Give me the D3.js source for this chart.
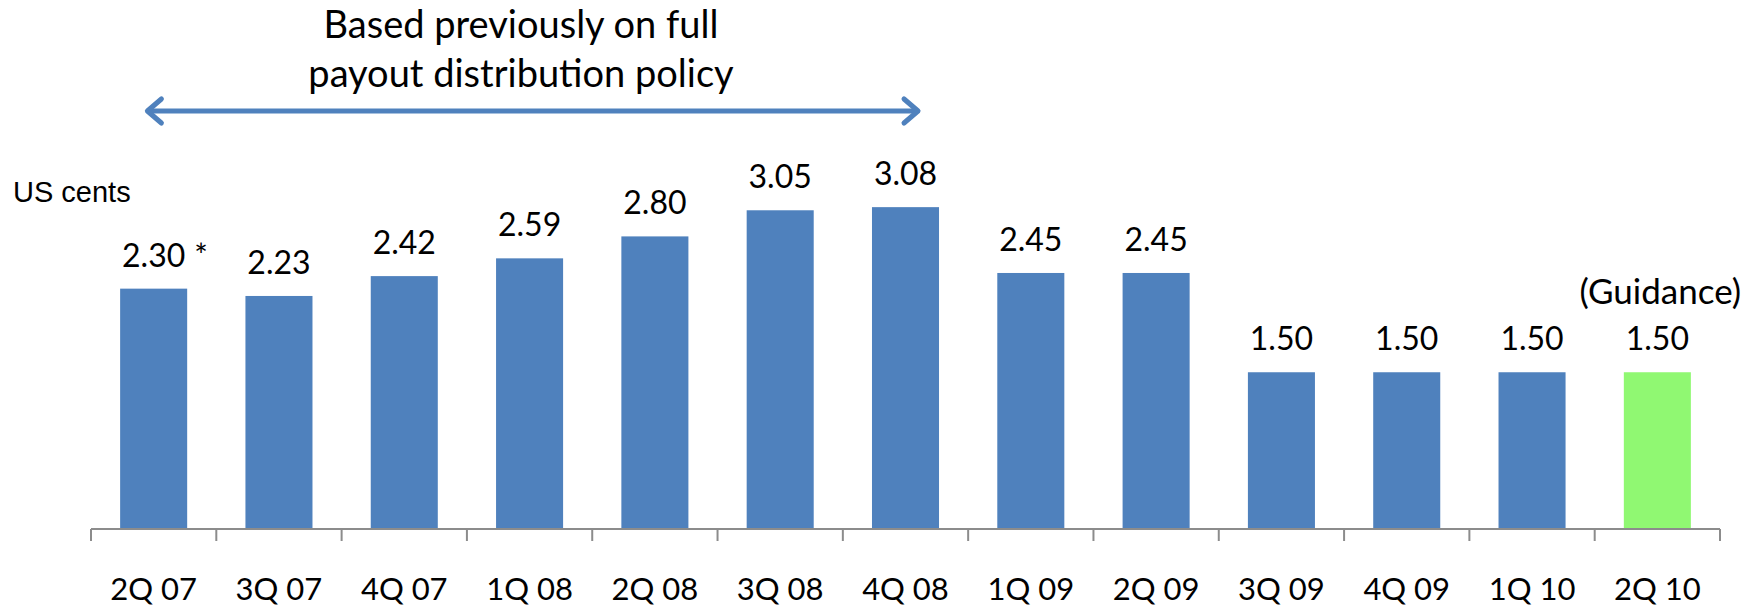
<!DOCTYPE html>
<html>
<head>
<meta charset="utf-8">
<script src="https://cdn.jsdelivr.net/npm/d3@7"></script>
<style>
  html, body { margin: 0; padding: 0; background: #fff; }
  svg { display: block; }
</style>
</head>
<body>
<div id="chart"></div>
<script>
const quarters = ["2Q 07", "3Q 07", "4Q 07", "1Q 08", "2Q 08", "3Q 08", "4Q 08",
                  "1Q 09", "2Q 09", "3Q 09", "4Q 09", "1Q 10", "2Q 10"];
const distribution = [2.30, 2.23, 2.42, 2.59, 2.80, 3.05, 3.08,
                      2.45, 2.45, 1.50, 1.50, 1.50, 1.50];
const labelNotes = ["*", "", "", "", "", "", "", "", "", "", "", "", ""];
const isGuidance = [false, false, false, false, false, false, false,
                    false, false, false, false, false, true];
const titleLines = ["Based previously on full", "payout distribution policy"];
const arrowSpan = ["2Q 07", "4Q 08"];

const width = 1758;
const height = 607;
const axisY = 529;
const labelFont = "Lato, 'Open Sans', sans-serif";
const blue = "#4f81bd";
const green = "#90f872";

const svg = d3.select("#chart")
  .append("svg")
  .attr("width", width)
  .attr("height", height);

const x = d3.scaleBand()
  .domain(quarters)
  .range([91, 1720])
  .paddingInner(0.465)
  .paddingOuter(0.2325);

const y = d3.scaleLinear()
  .domain([0, 3.5])
  .range([axisY, axisY - 3.5 * 104.5]);

const step = x.step();
const bandStart = (q) => x(q) - x.paddingOuter() * step;

// bars
svg.append("g")
  .selectAll("rect")
  .data(quarters)
  .join("rect")
  .attr("x", (d) => x(d))
  .attr("y", (d, i) => y(distribution[i]))
  .attr("width", x.bandwidth())
  .attr("height", (d, i) => y(0) - y(distribution[i]))
  .attr("fill", (d, i) => (isGuidance[i] ? green : blue));

// axis line with ticks on band boundaries
const axis = svg.append("g").attr("stroke", "#8c8c8c").attr("stroke-width", 2);
axis.append("line")
  .attr("x1", x.range()[0])
  .attr("x2", x.range()[1])
  .attr("y1", axisY)
  .attr("y2", axisY);
axis.selectAll("line.tick")
  .data(quarters.map(bandStart).concat([x.range()[1]]))
  .join("line")
  .attr("class", "tick")
  .attr("x1", (d) => d)
  .attr("x2", (d) => d)
  .attr("y1", axisY)
  .attr("y2", axisY + 12);

// category labels
svg.append("g")
  .selectAll("text")
  .data(quarters)
  .join("text")
  .attr("x", (d) => x(d) + x.bandwidth() / 2)
  .attr("y", 600)
  .attr("text-anchor", "middle")
  .style("font", `31px ${labelFont}`)
  .text((d) => d);

// value labels
const valueLabels = svg.append("g")
  .selectAll("text")
  .data(quarters)
  .join("text")
  .attr("x", (d) => x(d) + x.bandwidth() / 2)
  .attr("y", (d, i) => y(distribution[i]) - 22)
  .attr("text-anchor", "middle")
  .style("font", `32px ${labelFont}`)
  .text((d, i) => distribution[i].toFixed(2));

// footnote markers after the value
valueLabels.each(function (d, i) {
  if (!labelNotes[i]) return;
  const w = this.getComputedTextLength();
  svg.append("text")
    .attr("x", x(d) + x.bandwidth() / 2 + w / 2 + 9)
    .attr("y", y(distribution[i]) - 22)
    .style("font", `32px ${labelFont}`)
    .text(labelNotes[i]);
});

// guidance note
const gIdx = isGuidance.indexOf(true);
svg.append("text")
  .attr("x", x(quarters[gIdx]) + x.bandwidth() / 2 + 3)
  .attr("y", y(distribution[gIdx]) - 68)
  .attr("text-anchor", "middle")
  .style("font", `35px ${labelFont}`)
  .text("(Guidance)");

// unit label
svg.append("text")
  .attr("x", 13)
  .attr("y", 202)
  .style("font", "29px 'Liberation Sans', Arial, sans-serif")
  .text("US cents");

// title
svg.append("g")
  .selectAll("text")
  .data(titleLines)
  .join("text")
  .attr("x", 521)
  .attr("y", (d, i) => 38 + i * 49)
  .attr("text-anchor", "middle")
  .style("font", `38px ${labelFont}`)
  .text((d) => d);

// double-headed arrow
const ax1 = bandStart(arrowSpan[0]) + 0.45 * step;
const ax2 = bandStart(arrowSpan[1]) + 0.6 * step;
const ay = 111;
const arrow = svg.append("g")
  .attr("stroke", blue)
  .attr("stroke-width", 5)
  .attr("fill", "none")
  .attr("stroke-linecap", "round")
  .attr("stroke-linejoin", "round");
arrow.append("line")
  .attr("x1", ax1 + 2).attr("x2", ax2 - 2)
  .attr("y1", ay).attr("y2", ay);
arrow.append("path")
  .attr("d", `M${ax1 + 14},${ay - 12} L${ax1},${ay} L${ax1 + 14},${ay + 12}`);
arrow.append("path")
  .attr("d", `M${ax2 - 14},${ay - 12} L${ax2},${ay} L${ax2 - 14},${ay + 12}`);
</script>
</body>
</html>
